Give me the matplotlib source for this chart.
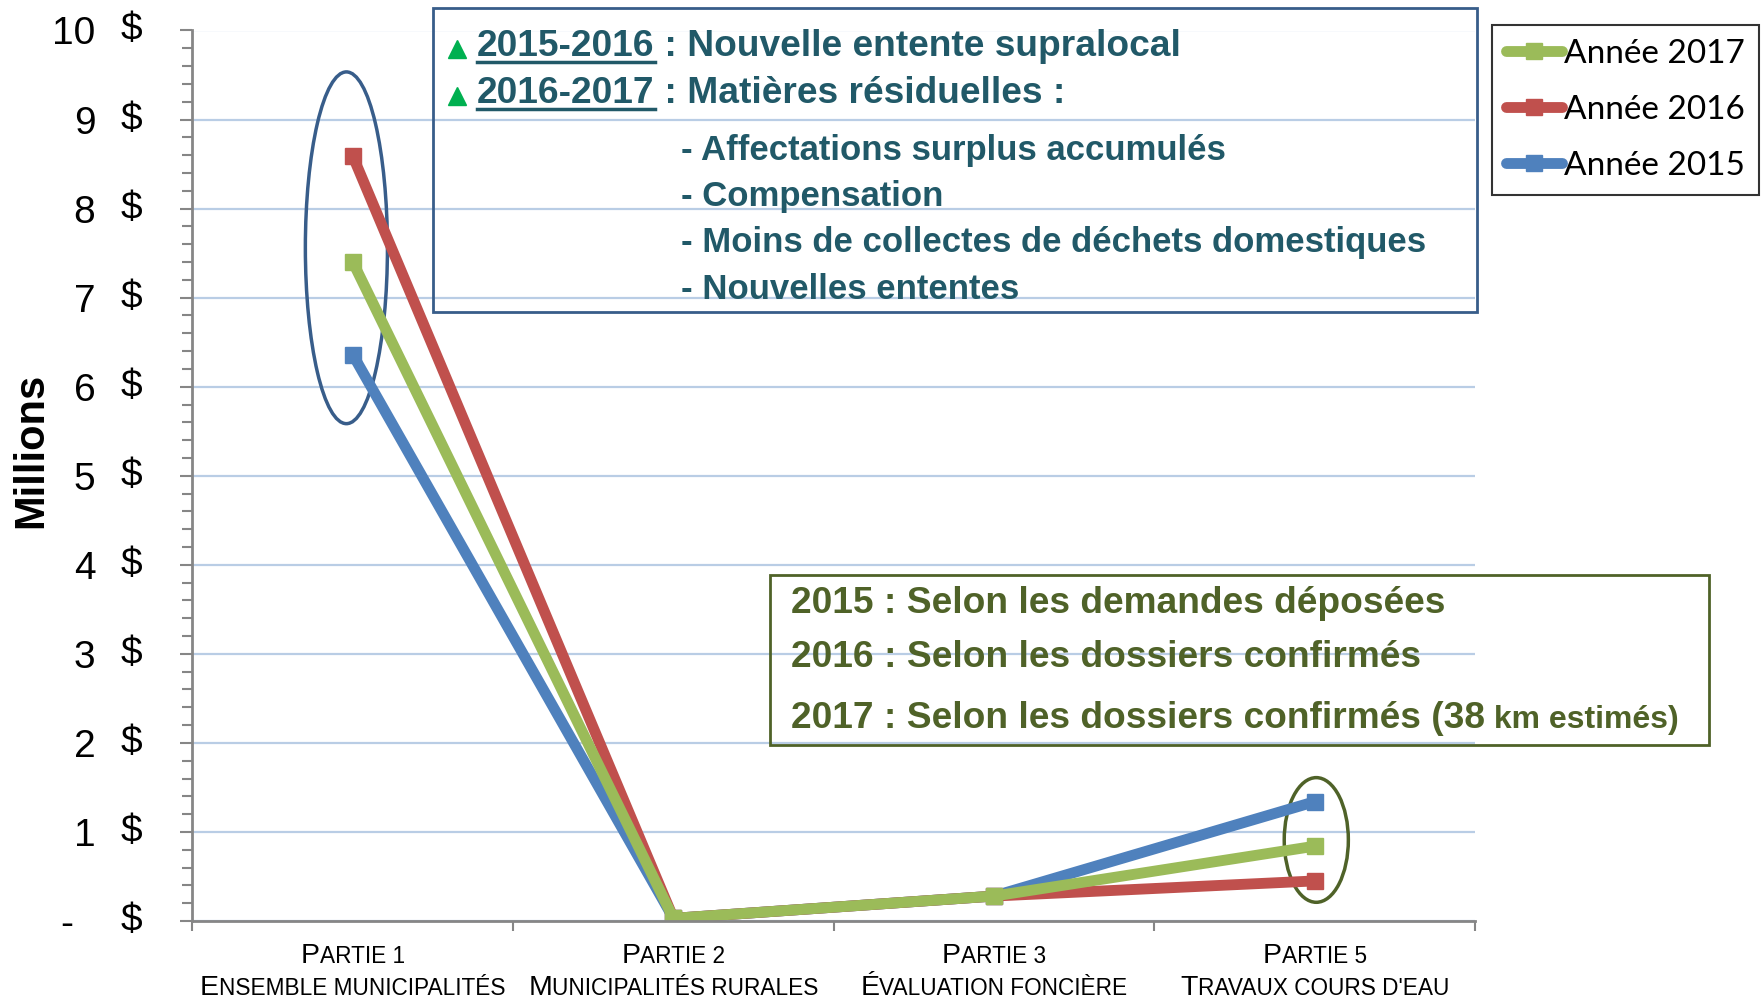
import matplotlib.pyplot as plt
from matplotlib.patches import Ellipse, Rectangle
from matplotlib.lines import Line2D

W, H = 1765, 998

# données (millions $)
categories = ['Partie 1\nEnsemble municipalités',
              'Partie 2\nMunicipalités rurales',
              'Partie 3\nÉvaluation foncière',
              "Partie 5\nTravaux cours d'eau"]
annee_2015 = [6.36, 0.03, 0.28, 1.34]
annee_2016 = [8.59, 0.03, 0.28, 0.45]
annee_2017 = [7.40, 0.03, 0.28, 0.84]
series_labels = ['Année 2015', 'Année 2016', 'Année 2017']
series_colors = ['#4F81BD', '#C0504D', '#9BBB59']
y_ticks = list(range(11))
y_tick_labels = ['-  '] + [str(v) for v in range(1, 11)]

box1_head = [('2015-2016', ' : Nouvelle entente supralocal'),
             ('2016-2017', ' : Matières résiduelles :')]
box1_items = ['- Affectations surplus accumulés',
              '- Compensation',
              '- Moins de collectes de déchets domestiques',
              '- Nouvelles ententes']
box2_lines = ['2015 : Selon les demandes déposées',
              '2016 : Selon les dossiers confirmés',
              '2017 : Selon les dossiers confirmés (38']
box2_tail = ' km estimés)'

plt.rcParams['font.family'] = ['Liberation Sans', 'DejaVu Sans']

def fx(px):
    return px / W

def fy(py):
    return 1 - py / H

fig = plt.figure(figsize=(W / 100, H / 100), dpi=100)
ax_l, ax_t, ax_r, ax_b = 192.5, 30.5, 1475, 921
ax = fig.add_axes([fx(ax_l), fy(ax_b), fx(ax_r - ax_l), (ax_b - ax_t) / H])
renderer = fig.canvas.get_renderer()

x = list(range(len(categories)))
lines = []
for vals, lab, col in zip([annee_2015, annee_2016, annee_2017], series_labels, series_colors):
    ln, = ax.plot(x, vals, color=col, lw=7.8, marker='s', ms=11.5,
                  solid_capstyle='butt', solid_joinstyle='miter', label=lab)
    lines.append(ln)

ax.set_xlim(-0.5, 3.5)
ax.set_ylim(0, 10)
ax.set_yticks(y_ticks)
ax.set_yticks([v / 5 for v in range(51)], minor=True)
ax.set_yticklabels(y_tick_labels, fontsize=28)
ax.tick_params(axis='y', which='major', length=9, width=1.5, color='#868686', pad=61)
ax.tick_params(axis='y', which='minor', length=7, width=1.5, color='#868686')
for v in y_ticks:
    ax.text(-0.048, v, '$', transform=ax.get_yaxis_transform(), fontsize=28,
            ha='center', va='center')
ax.set_xticks([])
ax.set_xticks([-0.5, 0.5, 1.5, 2.5, 3.5], minor=True)
ax.tick_params(axis='x', which='minor', length=7, width=1.5, color='#868686')
ax.grid(axis='y', color='#B9CDE5', lw=1.6)
ax.set_axisbelow(True)
for s in ['top', 'right']:
    ax.spines[s].set_visible(False)
for s in ['left', 'bottom']:
    ax.spines[s].set_color('#868686')
    ax.spines[s].set_linewidth(2)

fig.text(fx(31), fy(450), 'Millions', fontsize=30, fontweight='bold',
         rotation=90, ha='center', va='center')

# ellipses
ax.add_patch(Ellipse((-0.02, 7.56), 0.256, 3.95, fill=False, ec='#385D8A', lw=2.5))
ax.add_patch(Ellipse((3.005, 0.91), 0.2, 1.40, fill=False, ec='#4F6228', lw=2.5))

# étiquettes des catégories en petites capitales
def smallcaps(xc, yb, line, big=20.5, small=16.3):
    texts = [fig.text(0, fy(yb), line[0], fontsize=big, va='baseline'),
             fig.text(0, fy(yb), line[1:].upper(), fontsize=small, va='baseline')]
    widths = [t.get_window_extent(renderer).width for t in texts]
    xx = xc - sum(widths) / 2
    for t, w in zip(texts, widths):
        t.set_x(fx(xx))
        xx += w

for i, cat in enumerate(categories):
    xc = ax.transData.transform((i, 0))[0]
    l1, l2 = cat.split('\n')
    smallcaps(xc, 963, l1)
    smallcaps(xc, 995, l2)

# encadré 1
c1 = '#215968'
fig.add_artist(Rectangle((fx(433), fy(312)), fx(1477 - 433), (312 - 8) / H,
                         transform=fig.transFigure, fill=False, ec='#385D8A', lw=2))
for (yr, rest), yb in zip(box1_head, [56, 103]):
    t = fig.text(fx(477), fy(yb), yr, fontsize=26.7, fontweight='bold', color=c1, va='baseline')
    w = t.get_window_extent(renderer).width
    fig.text(fx(477 + w), fy(yb), rest, fontsize=26.7, fontweight='bold', color=c1, va='baseline')
    fig.add_artist(Line2D([fx(477), fx(477 + w)], [fy(yb + 6), fy(yb + 6)],
                          transform=fig.transFigure, color=c1, lw=2.5))
    fig.add_artist(Line2D([fx(457)], [fy(yb - 7)], transform=fig.transFigure,
                          marker='^', ms=13, color='#00B050', ls='none'))
for item, yb in zip(box1_items, [160, 206, 252, 299]):
    fig.text(fx(681), fy(yb), item, fontsize=25, fontweight='bold', color=c1, va='baseline')

# encadré 2
c2 = '#4F6228'
fig.add_artist(Rectangle((fx(770), fy(745)), fx(1709 - 770), (745 - 575) / H,
                         transform=fig.transFigure, fill=False, ec=c2, lw=2))
for txt, yb in zip(box2_lines, [613, 667, 728]):
    t = fig.text(fx(791), fy(yb), txt, fontsize=26.7, fontweight='bold', color=c2, va='baseline')
w = t.get_window_extent(renderer).width
fig.text(fx(791 + w), fy(728), box2_tail, fontsize=23, fontweight='bold', color=c2, va='baseline')

# légende
leg = fig.legend(lines[::-1], series_labels[::-1], loc='upper right',
                 bbox_to_anchor=(fx(1759), fy(25)), prop={'family': 'Lato', 'size': 24},
                 frameon=True, fancybox=False, edgecolor='black', numpoints=1,
                 handlelength=1.7, handletextpad=0.05, labelspacing=0.78,
                 borderpad=0.42, borderaxespad=0)
leg.get_frame().set_linewidth(1.5)
for h in leg.legend_handles:
    h.set_solid_capstyle('round')

fig.savefig('out.png', dpi=100)
